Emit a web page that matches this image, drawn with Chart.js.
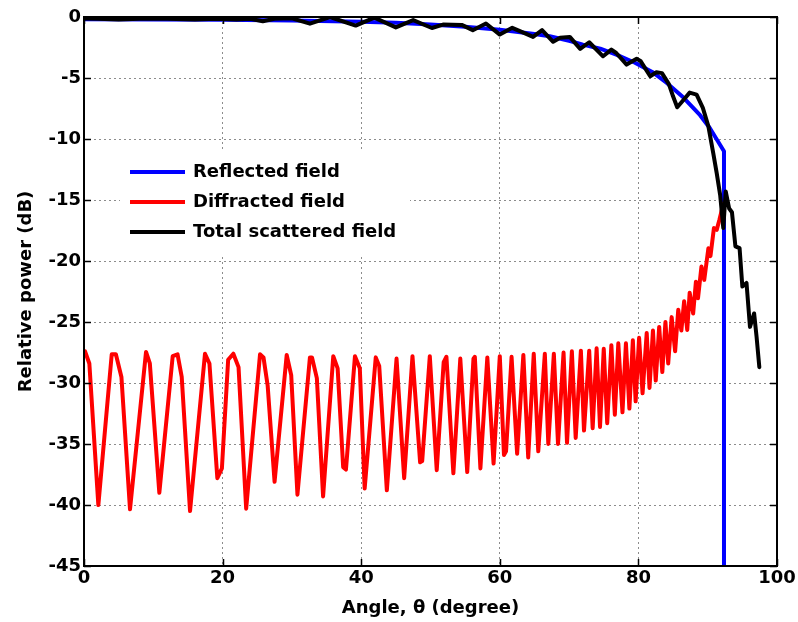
<!DOCTYPE html>
<html>
<head>
<meta charset="utf-8">
<script src="https://cdn.jsdelivr.net/npm/chart.js@4.4.0/dist/chart.umd.min.js"></script>
<style>
  html, body { margin: 0; padding: 0; background: #fff; }
</style>
</head>
<body>
<canvas id="fieldChart" width="798" height="622"></canvas>
<script>
// Reflected field (dB) vs angle
const reflectedAngle = [0, 10, 20, 30, 40, 45, 50, 55, 60, 65, 67.2, 70, 72, 74.5, 76.9, 79.5, 82, 84.1, 86.5, 88.9, 90.3, 92.35, 92.35];
const reflectedDb = [-0.18, -0.2, -0.22, -0.28, -0.38, -0.48, -0.62, -0.8, -1.05, -1.4, -1.58, -1.95, -2.26, -2.6, -3.1, -3.75, -4.5, -5.4, -6.6, -8.05, -9.1, -11.0, -45];

// Diffracted field (dB) vs angle
const diffractedAngle = [
  0.14, 0.77, 2.07, 4.0, 4.6, 5.4, 6.64, 8.95, 9.5, 10.87, 12.8, 13.5, 14.1, 15.3, 17.46, 18.1,
  19.24, 19.9, 20.8, 21.55, 22.3, 23.4, 25.4, 25.9, 26.5, 27.5, 29.25, 29.9, 30.8, 32.6, 32.9,
  33.6, 34.5, 35.97, 36.6, 37.4, 37.8, 39.1, 39.8, 40.5, 42.1, 42.6, 43.7, 45.1, 46.2, 47.4,
  48.5, 48.8, 49.9, 50.9, 51.9, 52.3, 53.3, 54.3, 55.3, 56.2, 56.4, 57.2, 58.2, 59.1, 60.0,
  60.6, 60.9, 61.7, 62.5, 63.4, 64.1, 64.9, 65.55, 66.5, 67.0, 67.8, 68.4, 69.2, 69.7, 70.4,
  70.95, 71.7, 72.15, 72.9, 73.4, 73.97, 74.46, 75.0, 75.5, 76.1, 76.6, 77.1, 77.7, 78.2, 78.7,
  79.2, 79.6, 80.1, 80.6, 81.2, 81.6, 82.1, 82.5, 83.0, 83.45, 83.9, 84.3, 84.8, 85.3, 85.75,
  86.2, 86.6, 87.05, 87.4, 87.9, 88.3, 88.6, 89.1, 89.5, 90.1, 90.4, 90.9, 91.3, 91.7, 92.0, 92.25
];
const diffractedDb = [
  -27.4, -28.4, -40.0, -27.65, -27.65, -29.5, -40.35, -27.45, -28.4, -39.0, -27.8, -27.65, -29.5, -40.5, -27.6, -28.4,
  -37.8, -37.0, -28.1, -27.6, -28.7, -40.3, -27.65, -27.9, -30.2, -38.1, -27.7, -29.35, -39.15, -27.9, -27.9,
  -29.6, -39.3, -27.8, -28.8, -36.9, -37.1, -27.8, -28.8, -38.65, -27.9, -28.6, -38.8, -28.0, -37.8, -27.8,
  -36.5, -36.4, -27.8, -37.15, -28.3, -27.85, -37.4, -28.0, -37.3, -28.0, -27.85, -37.0, -27.9, -36.6, -27.8,
  -35.9, -35.6, -27.85, -35.8, -27.7, -36.1, -27.6, -35.6, -27.6, -35.0, -27.6, -35.0, -27.5, -34.9, -27.4,
  -34.5, -27.35, -33.9, -27.35, -33.7, -27.15, -33.6, -27.2, -33.3, -26.9, -32.6, -26.75, -32.4, -26.75, -32.1,
  -26.5, -31.5, -26.3, -30.85, -25.9, -30.4, -25.7, -29.8, -25.4, -29.1, -25.0, -28.4, -24.6, -27.4, -24.0,
  -25.7, -23.3, -25.65, -22.6, -24.3, -21.7, -23.05, -20.45, -21.55, -18.95, -19.6, -17.3, -17.45, -16.6, -15.9, -15.3
];

// Total scattered field (dB) vs angle
const totalAngle = [
  0, 2, 5, 8, 12, 16, 19, 22, 24, 25.8, 27.5, 30, 32.6, 35.5, 39.2, 41.9, 45.0, 47.5, 50.2, 51.8,
  54.5, 56.1, 58.0, 60.0, 61.8, 62.9, 64.8, 66.1, 67.7, 68.7, 70.1, 71.6, 72.9, 74.9, 76.1, 76.8,
  78.3, 79.75, 80.3, 81.7, 82.6, 83.4, 84.4, 85.0, 85.6, 86.5, 87.4, 88.4, 89.3, 90.1, 90.8, 91.3,
  91.8, 92.25, 92.6, 93.1, 93.5, 94.0, 94.6, 95.0, 95.6, 96.1, 96.7, 97.05, 97.45
];
const totalDb = [
  -0.12, -0.15, -0.2, -0.15, -0.15, -0.2, -0.15, -0.2, -0.15, -0.35, -0.15, -0.1, -0.55, 0.0, -0.7, -0.05, -0.85, -0.25, -0.9, -0.62,
  -0.65, -1.08, -0.53, -1.44, -0.89, -1.16, -1.63, -1.08, -2.03, -1.71, -1.63, -2.61, -2.07, -3.22, -2.67, -2.95,
  -3.9, -3.43, -3.6, -4.86, -4.53, -4.6, -5.5, -6.5, -7.4, -6.8, -6.2, -6.36, -7.45, -8.97, -11.15, -12.8,
  -14.6, -17.3, -14.3, -15.7, -16.0, -18.8, -18.95, -22.1, -21.8, -25.4, -24.3, -26.2, -28.7
];

const xTicks = [0, 20, 40, 60, 80, 100];
const yTicks = [0, -5, -10, -15, -20, -25, -30, -35, -40, -45];

const seriesNames = ['Reflected field', 'Diffracted field', 'Total scattered field'];
const seriesColors = ['#0000ff', '#ff0000', '#000000'];

function toPoints(xs, ys) {
  return xs.map((v, i) => ({ x: v, y: ys[i] }));
}

const fontFamily = '"DejaVu Sans", sans-serif';

// box around the axes with inward ticks on every side
const frameBox = {
  id: 'frameBox',
  afterDraw(chart) {
    const { ctx, chartArea: a, scales: { x, y } } = chart;
    ctx.save();
    ctx.setLineDash([]);
    ctx.strokeStyle = '#000';
    ctx.lineWidth = 1.5;
    ctx.beginPath();
    xTicks.forEach(v => {
      const px = Math.round(x.getPixelForValue(v)) + 0.5;
      ctx.moveTo(px, a.bottom); ctx.lineTo(px, a.bottom - 7);
      ctx.moveTo(px, a.top); ctx.lineTo(px, a.top + 7);
    });
    yTicks.forEach(v => {
      const py = Math.round(y.getPixelForValue(v)) + 0.5;
      ctx.moveTo(a.left, py); ctx.lineTo(a.left + 7, py);
      ctx.moveTo(a.right, py); ctx.lineTo(a.right - 7, py);
    });
    ctx.stroke();
    ctx.lineWidth = 2;
    ctx.strokeRect(a.left, a.top, a.right - a.left, a.bottom - a.top);
    ctx.restore();
  }
};

// legend on a white patch (no border), inside the plot
const innerLegend = {
  id: 'innerLegend',
  afterDraw(chart) {
    const { ctx } = chart;
    ctx.save();
    ctx.setLineDash([]);
    ctx.fillStyle = '#fff';
    ctx.fillRect(120, 151, 290, 103);
    ctx.font = 'bold 18px ' + fontFamily;
    ctx.textBaseline = 'middle';
    seriesNames.forEach((name, i) => {
      const yy = 172 + i * 30;
      ctx.strokeStyle = seriesColors[i];
      ctx.lineWidth = 4;
      ctx.beginPath();
      ctx.moveTo(130, yy);
      ctx.lineTo(185, yy);
      ctx.stroke();
      ctx.fillStyle = '#000';
      ctx.fillText(name, 193, yy);
    });
    ctx.restore();
  }
};

const ctx = document.getElementById('fieldChart').getContext('2d');
new Chart(ctx, {
  type: 'scatter',
  data: {
    datasets: [
      { label: seriesNames[0], data: toPoints(reflectedAngle, reflectedDb), borderColor: seriesColors[0], order: 3 },
      { label: seriesNames[1], data: toPoints(diffractedAngle, diffractedDb), borderColor: seriesColors[1], order: 2 },
      { label: seriesNames[2], data: toPoints(totalAngle, totalDb), borderColor: seriesColors[2], order: 1 }
    ]
  },
  options: {
    responsive: false,
    animation: false,
    showLine: true,
    datasets: {
      scatter: { showLine: true, pointRadius: 0, borderWidth: 4, tension: 0, fill: false, borderJoinStyle: 'round', borderCapStyle: 'round' }
    },
    layout: { padding: { left: 0, top: 17, right: 21, bottom: 0 } },
    plugins: {
      legend: { display: false },
      tooltip: { enabled: false }
    },
    scales: {
      x: {
        type: 'linear',
        min: 0,
        max: 100,
        afterFit(scale) { scale.height = 56; },
        afterBuildTicks(scale) { scale.ticks = xTicks.map(v => ({ value: v })); },
        ticks: { padding: 2, color: '#000', font: { family: fontFamily, size: 18, weight: 'bold' } },
        grid: { color: '#8c8c8c', lineWidth: 1, drawTicks: false },
        border: { display: false, dash: [2, 3] },
        title: {
          display: true,
          text: 'Angle, θ (degree)',
          color: '#000',
          font: { family: fontFamily, size: 18, weight: 'bold' },
          padding: { top: 0, bottom: 3 }
        }
      },
      y: {
        type: 'linear',
        min: -45,
        max: 0,
        afterFit(scale) { scale.width = 84; },
        afterBuildTicks(scale) { scale.ticks = yTicks.map(v => ({ value: v })); },
        ticks: { padding: 3, color: '#000', font: { family: fontFamily, size: 18, weight: 'bold' } },
        grid: { color: '#8c8c8c', lineWidth: 1, drawTicks: false },
        border: { display: false, dash: [2, 3] },
        title: {
          display: true,
          text: 'Relative power (dB)',
          color: '#000',
          font: { family: fontFamily, size: 18, weight: 'bold' },
          padding: { top: 16, bottom: 0 }
        }
      }
    }
  },
  plugins: [frameBox, innerLegend]
});
</script>
</body>
</html>
